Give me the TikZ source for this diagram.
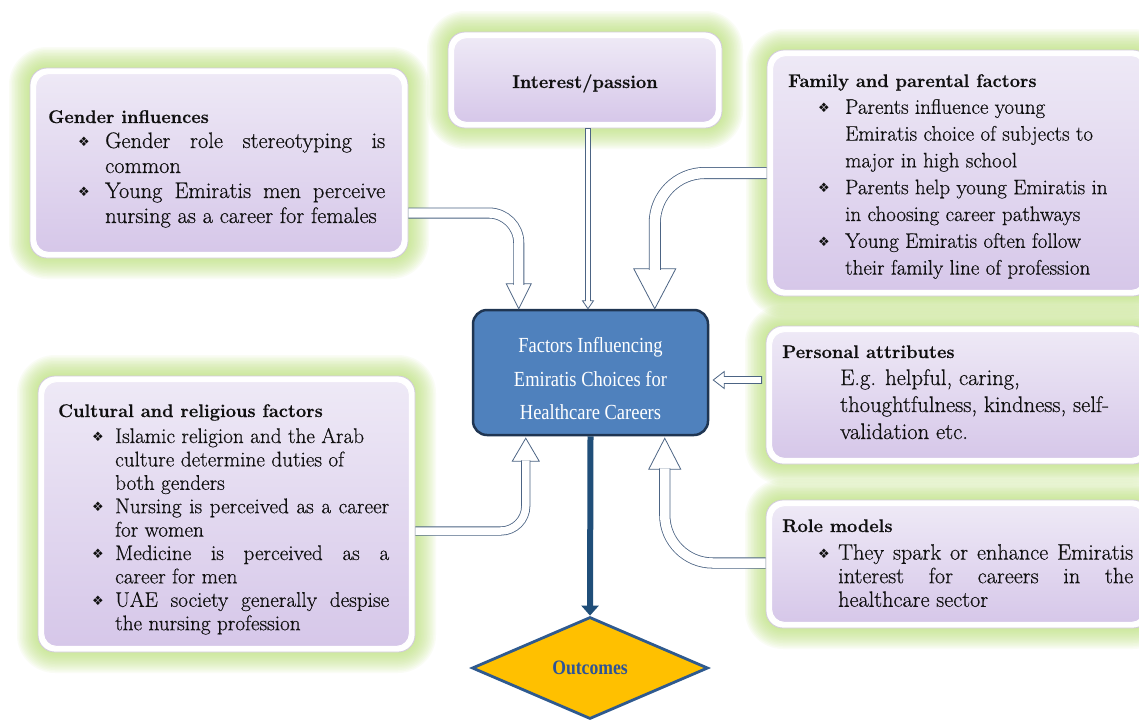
\documentclass[tikz,border=0pt]{standalone}
\usepackage{fontspec}
\newfontfamily\dejavu{DejaVu Sans}
\newfontfamily\bodyf{Latin Modern Roman}[FakeBold=0.5]
\newfontfamily\centf{Liberation Serif}[FakeStretch=0.86]
\usetikzlibrary{calc,shapes.geometric,fit,arrows.meta}

\definecolor{glowc}{HTML}{B9E172}
\definecolor{boxtop}{HTML}{EEE9F6}
\definecolor{boxbot}{HTML}{D6C7E9}
\definecolor{rimc}{HTML}{D2CADC}
\definecolor{arrowc}{HTML}{4C6484}
\definecolor{centfill}{HTML}{4F81BD}
\definecolor{centdraw}{HTML}{1F3552}
\definecolor{diafill}{HTML}{FFC000}
\definecolor{diadraw}{HTML}{2F5A8F}
\definecolor{downc}{HTML}{1F4E79}
\definecolor{outc}{HTML}{2E5496}
\definecolor{txtc}{HTML}{101010}

\newcommand{\bul}[1]{\makebox[#1][l]{\raisebox{1.5pt}{\dejavu\fontsize{13}{10}\selectfont ❖}}}
\newcommand{\jl}[2]{\makebox[#1][s]{#2}}
\newcommand{\ttl}[1]{{\bodyf\bfseries\fontsize{18.3}{20}\selectfont #1}}

\newcommand{\glow}[4]{%
  \foreach \i in {1,...,14}{%
    \pgfmathsetmacro{\rr}{17+\i*1.5}%
    \fill[glowc, opacity=0.07, rounded corners=\rr pt] (#1-\i*1.5,#2-\i*1.5) rectangle (#3+\i*1.5,#4+\i*1.5);
  }%
}
\newcommand{\pbox}[5]{%
  \node[outbox, fit={(#2,#3) (#4,#5)}] (#1) {};
  \shadedraw[top color=boxtop, bottom color=boxbot, draw=white, line width=1pt, rounded corners=13pt]
    ($(#1.north west)+(6,6)$) rectangle ($(#1.south east)+(-6,-6)$);
}

\tikzset{
  outbox/.style={draw=rimc, line width=0.8pt, fill=white, rounded corners=17pt, inner sep=0pt},
  txt/.style={text width=420pt, align=flush left, inner sep=0pt, anchor=base west, text=txtc},
  hshaft/.style={draw=arrowc, line width=0.8pt, double=white},
  hhead/.style={fill=white, draw=arrowc, line width=0.8pt, line join=miter},
}

\begin{document}
\begin{tikzpicture}[x=1pt,y=-1pt]
\fill[white] (0,0) rectangle (1139,720);
\useasboundingbox (0,0) rectangle (1139,720);

% glows
\glow{30}{68}{408}{258}
\glow{448}{32}{722}{128}
\glow{767}{50}{1150}{296}
\glow{38}{376}{415}{652}
\glow{766}{326}{1150}{464}
\glow{766}{500}{1150}{628}

% boxes
\pbox{gender}{30}{68}{408}{258}
\pbox{interest}{448}{32}{722}{128}
\pbox{family}{767}{50}{1150}{296}
\pbox{cultural}{38}{376}{415}{652}
\pbox{personal}{766}{326}{1150}{464}
\pbox{role}{766}{500}{1150}{628}

% texts
\node[anchor=base, inner sep=0pt, text=txtc] (itxt) at (585,88) {\ttl{Interest/passion}};

\node[txt, font=\bodyf\fontsize{22.4}{25}\selectfont] (gtxt) at (48,123) {\ttl{Gender influences}\\
\hspace*{30pt}\bul{27pt}\jl{280pt}{Gender role stereotyping is}\\
\hspace*{57pt}common\\
\hspace*{30pt}\bul{27pt}\jl{280pt}{Young Emiratis men perceive}\\
\hspace*{57pt}nursing as a career for females};

\node[txt, font=\bodyf\fontsize{21}{26.8}\selectfont] (ftxt) at (788,87) {\ttl{Family and parental factors}\\
\hspace*{30pt}\bul{27pt}Parents influence young\\
\hspace*{57pt}Emiratis choice of subjects to\\
\hspace*{57pt}major in high school\\
\hspace*{30pt}\bul{27pt}Parents help young Emiratis in\\
\hspace*{57pt}in choosing career pathways\\
\hspace*{30pt}\bul{27pt}Young Emiratis often follow\\
\hspace*{57pt}their family line of profession};

\node[txt, font=\bodyf\fontsize{21.2}{23.4}\selectfont] (ctxt) at (58,417) {\ttl{Cultural and religious factors}\\[2.6pt]
\hspace*{34pt}\bul{23pt}Islamic religion and the Arab\\
\hspace*{57pt}culture determine duties of\\
\hspace*{57pt}both genders\\
\hspace*{34pt}\bul{23pt}\jl{274pt}{Nursing is perceived as a career}\\
\hspace*{57pt}for women\\
\hspace*{34pt}\bul{23pt}\jl{274pt}{Medicine is perceived as a}\\
\hspace*{57pt}career for men\\
\hspace*{34pt}\bul{23pt}\jl{274pt}{UAE society generally despise}\\
\hspace*{57pt}the nursing profession};

\node[txt, font=\bodyf\fontsize{22.6}{27}\selectfont] (ptxt) at (782,358) {\ttl{Personal attributes}\\
\hspace*{58pt}E.g. helpful, caring,\\
\hspace*{58pt}thoughtfulness, kindness, self-\\
\hspace*{58pt}validation etc.};

\node[txt, font=\bodyf\fontsize{22.2}{23.6}\selectfont] (rtxt) at (782,532) {\ttl{Role models}\\[4pt]
\hspace*{36pt}\bul{20pt}\jl{295pt}{They spark or enhance Emiratis}\\
\hspace*{56pt}\jl{295pt}{interest for careers in the}\\
\hspace*{56pt}healthcare sector};

% central box and outcome
\node[draw=centdraw, line width=2.5pt, fill=centfill, rounded corners=14pt, minimum width=235pt,
      minimum height=125pt, inner sep=0pt, text=white, align=center,
      font=\centf\fontsize{21.5}{33.5}\selectfont] (center) at (590.5,372.5)
      {\rule{0pt}{27.6pt}Factors Influencing\\Emiratis Choices for\\Healthcare Careers};

\node[diamond, draw=diadraw, line width=2.8pt, fill=diafill, minimum width=236pt, minimum height=102pt,
      inner sep=0pt, font=\centf\bfseries\fontsize{20.5}{22}\selectfont, text=outc] (outcome) at (590,668) {Outcomes};

\draw[draw=downc, line width=6pt, -{Triangle[length=10pt,width=17pt]}] (center.south) -- (outcome.north);

% interest arrow (straight, thin)
\coordinate (is) at ($(interest.south)+(3,0)$);
\coordinate (it) at (is |- center.north);
\draw[hhead] ($(is)+(-2.5,0)$) -- ($(it)+(-2.5,-8)$) -- ($(it)+(-5.5,-8)$) -- (it) -- ($(it)+(5.5,-8)$)
   -- ($(it)+(2.5,-8)$) -- ($(is)+(2.5,0)$) -- cycle;

% personal arrow (straight, short)
\coordinate (ps) at ($(personal.west)+(-4,-15)$);
\coordinate (pt) at ($(center.east |- ps)+(4,0)$);
\draw[hhead] ($(ps)+(0,-3.5)$) -- ($(pt)+(11,-3.5)$) -- ($(pt)+(11,-8.5)$) -- (pt) -- ($(pt)+(11,8.5)$)
   -- ($(pt)+(11,3.5)$) -- ($(ps)+(0,3.5)$) -- cycle;

% gender arrow
\coordinate (gt) at ($(center.north west)+(47,0)$);
\draw[hhead] ($(gt)+(-12.5,-25)$) -- (gt) -- ($(gt)+(12.5,-25)$) -- cycle;
\draw[hshaft, double distance=9.4pt, rounded corners=30pt] ($(gender.east)+(0,50)$) -| ($(gt)+(0,-24)$);

% family arrow
\coordinate (ft) at ($(center.north west)+(183,0)$);
\draw[hhead] ($(ft)+(-21,-40)$) -- (ft) -- ($(ft)+(21,-40)$) -- cycle;
\draw[hshaft, double distance=10.4pt, rounded corners=50pt] (family.west) -| ($(ft)+(0,-39)$);

% cultural arrow
\coordinate (ct) at ($(center.south west)+(54,2)$);
\draw[hhead] ($(ct)+(-13.5,23)$) -- (ct) -- ($(ct)+(13.5,23)$) -- cycle;
\draw[hshaft, double distance=7.5pt, rounded corners=25pt] ($(cultural.east)+(0,17)$) -| ($(ct)+(0,22)$);

% role arrow
\coordinate (rt) at ($(center.south west)+(193,2)$);
\draw[hhead] ($(rt)+(-16,31)$) -- (rt) -- ($(rt)+(16,31)$) -- cycle;
\draw[hshaft, double distance=9.5pt, rounded corners=48pt] ($(role.west)+(0,-1)$) -| ($(rt)+(0,30)$);

\end{tikzpicture}
\end{document}
